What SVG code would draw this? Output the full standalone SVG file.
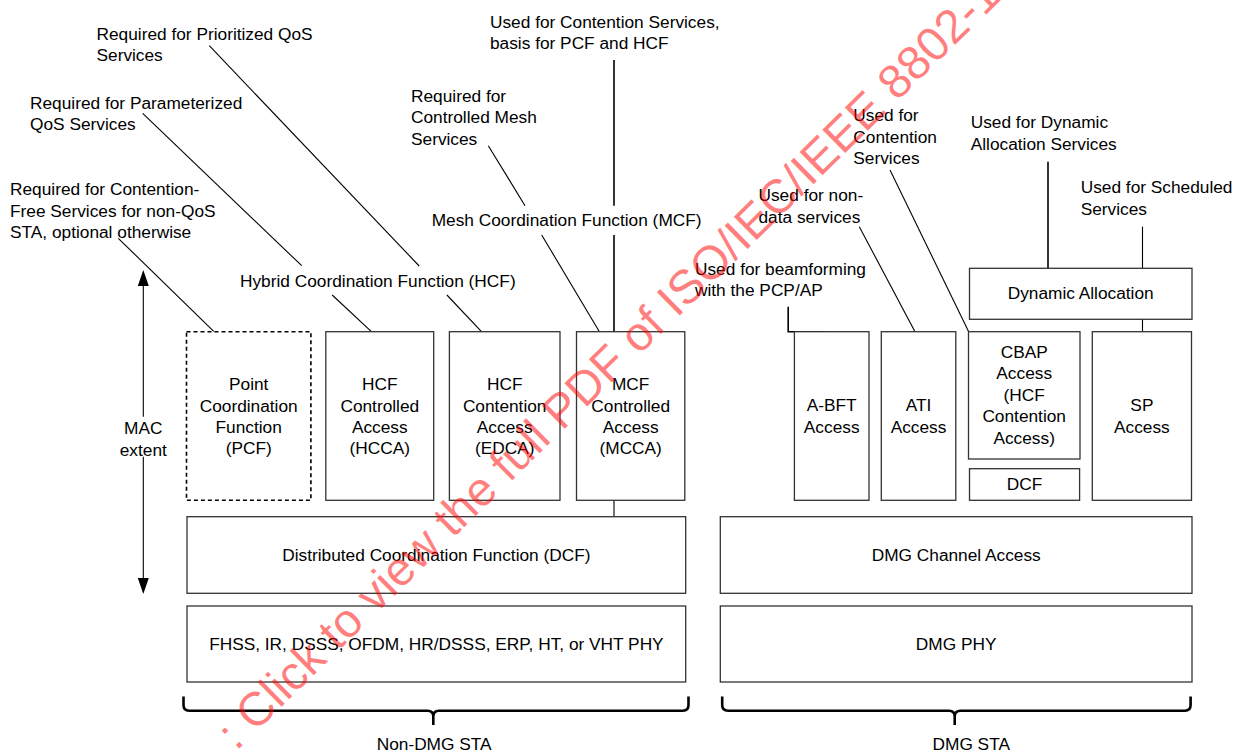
<svg xmlns="http://www.w3.org/2000/svg" width="1236" height="753" viewBox="0 0 1236 753">
<defs>
<style>
text{font-family:"Liberation Sans",Arial,sans-serif;font-size:17.3px;fill:#000}
.c{text-anchor:middle}
.box{fill:#fff;stroke:#333;stroke-width:1.3}
.dash{fill:#fff;stroke:#000;stroke-width:1.6;stroke-dasharray:4 3}
.ln{fill:none;stroke:#000;stroke-width:1.1}
.lt{fill:none;stroke:#000;stroke-width:1.6}
.brace{fill:none;stroke:#000;stroke-width:2.6}
.wm{font-size:47.5px;fill:#ff0000;fill-opacity:0.5}
</style>
</defs>
<rect width="1236" height="753" fill="#fff"/>

<g id="connectors">
<line class="ln" x1="118.3" y1="238.3" x2="214" y2="331.7"/>
<line class="ln" x1="142.7" y1="113.3" x2="301.7" y2="265.7"/>
<line class="ln" x1="332.2" y1="295" x2="371.4" y2="331.7"/>
<line class="ln" x1="209.3" y1="45.7" x2="419.2" y2="266"/>
<line class="ln" x1="446.9" y1="295" x2="481.5" y2="331.7"/>
<line class="ln" x1="488.3" y1="145.7" x2="525" y2="205.7"/>
<line class="ln" x1="541.7" y1="235" x2="599.4" y2="331.7"/>
<line class="lt" x1="614" y1="60" x2="614" y2="205.7"/>
<line class="lt" x1="614" y1="235" x2="614" y2="331.7"/>
<line class="ln" x1="614" y1="500.3" x2="614" y2="516.7"/>
<polyline class="lt" points="788.2,306.7 788.2,331.7 827,331.7"/>
<line class="ln" x1="859.3" y1="226.7" x2="915" y2="331.7"/>
<line class="ln" x1="890" y1="170" x2="968.7" y2="331.7"/>
<line class="lt" x1="1048" y1="161.7" x2="1048" y2="268.3"/>
<line class="ln" x1="1142.5" y1="226.7" x2="1142.5" y2="268.3"/>
<line class="ln" x1="1142.5" y1="319.3" x2="1142.5" y2="331.7"/>
<line class="ln" x1="143.3" y1="284" x2="143.3" y2="416.7"/>
<line class="ln" x1="143.3" y1="456.7" x2="143.3" y2="580"/>
<path d="M143.3,270 L148.8,286 L137.8,286 Z" fill="#000"/>
<path d="M143.3,594 L148.8,578 L137.8,578 Z" fill="#000"/>
<path class="brace" d="M183.5,696.5 V705 Q183.5,710.7 189,710.7 H427.5 Q433.3,710.7 433.3,716.5 V725 M433.3,716.5 Q433.3,710.7 439,710.7 H683 Q688.5,710.7 688.5,705 V696.5"/>
<path class="brace" d="M722.2,696.5 V705 Q722.2,710.7 728,710.7 H949 Q954.7,710.7 954.7,716.5 V725 M954.7,716.5 Q954.7,710.7 960.5,710.7 H1185 Q1190.6,710.7 1190.6,705 V696.5"/>
</g>

<g id="lbl-prioritized"><text x="96.5" y="39.5">Required for Prioritized QoS</text><text x="96.5" y="61">Services</text></g>
<g id="lbl-parameterized"><text x="30" y="108.7">Required for Parameterized</text><text x="30" y="130.2">QoS Services</text></g>
<g id="lbl-contention-free"><text x="10" y="195">Required for Contention-</text><text x="10" y="216.5">Free Services for non-QoS</text><text x="10" y="238">STA, optional otherwise</text></g>
<g id="lbl-hcf"><text x="240" y="286.5">Hybrid Coordination Function (HCF)</text></g>
<g id="lbl-mcf"><text x="431.7" y="226">Mesh Coordination Function (MCF)</text></g>
<g id="lbl-mesh"><text x="411" y="101.7">Required for</text><text x="411" y="123.2">Controlled Mesh</text><text x="411" y="144.7">Services</text></g>
<g id="lbl-contention"><text x="490" y="27.7">Used for Contention Services,</text><text x="490" y="49.3">basis for PCF and HCF</text></g>
<g id="lbl-beam"><text x="695" y="274.5">Used for beamforming</text><text x="695" y="296">with the PCP/AP</text></g>
<g id="lbl-nondata"><text x="758.5" y="201">Used for non-</text><text x="758.5" y="222.5">data services</text></g>
<g id="lbl-contention-dmg"><text x="853.3" y="121">Used for</text><text x="853.3" y="142.7">Contention</text><text x="853.3" y="164.3">Services</text></g>
<g id="lbl-dynamic"><text x="970.7" y="128.3">Used for Dynamic</text><text x="970.7" y="150">Allocation Services</text></g>
<g id="lbl-scheduled"><text x="1080.7" y="193.3">Used for Scheduled</text><text x="1080.7" y="214.5">Services</text></g>
<g id="lbl-mac"><text class="c" x="143.3" y="434.3">MAC</text><text class="c" x="143.3" y="456">extent</text></g>

<g id="pcf"><rect class="dash" x="186.5" y="331.7" width="124.4" height="168.6"/>
<text class="c" x="248.7" y="390">Point</text><text class="c" x="248.7" y="411.7">Coordination</text><text class="c" x="248.7" y="433">Function</text><text class="c" x="248.7" y="454.3">(PCF)</text></g>
<g id="hcca"><rect class="box" x="325.8" y="331.7" width="107.9" height="168.6"/>
<text class="c" x="379.8" y="390">HCF</text><text class="c" x="379.8" y="411.7">Controlled</text><text class="c" x="379.8" y="433">Access</text><text class="c" x="379.8" y="454.3">(HCCA)</text></g>
<g id="edca"><rect class="box" x="449.4" y="331.7" width="110.6" height="168.6"/>
<text class="c" x="504.7" y="390">HCF</text><text class="c" x="504.7" y="411.7">Contention</text><text class="c" x="504.7" y="433">Access</text><text class="c" x="504.7" y="454.3">(EDCA)</text></g>
<g id="mcca"><rect class="box" x="576.5" y="331.7" width="108.3" height="168.6"/>
<text class="c" x="630.7" y="390">MCF</text><text class="c" x="630.7" y="411.7">Controlled</text><text class="c" x="630.7" y="433">Access</text><text class="c" x="630.7" y="454.3">(MCCA)</text></g>
<g id="dcf"><rect class="box" x="187" y="516.7" width="498.7" height="76.6"/><text class="c" x="436.4" y="561">Distributed Coordination Function (DCF)</text></g>
<g id="phy"><rect class="box" x="187" y="606" width="498.7" height="76"/><text class="c" x="436.4" y="650">FHSS, IR, DSSS, OFDM, HR/DSSS, ERP, HT, or VHT PHY</text></g>
<g id="dmg-ca"><rect class="box" x="720.3" y="516.7" width="471.7" height="76.6"/><text class="c" x="956.2" y="561">DMG Channel Access</text></g>
<g id="dmg-phy"><rect class="box" x="720.3" y="606" width="471.7" height="76"/><text class="c" x="956.2" y="650">DMG PHY</text></g>
<g id="abft"><rect class="box" x="794.4" y="331.7" width="74.6" height="168.6"/><text class="c" x="831.7" y="411">A-BFT</text><text class="c" x="831.7" y="432.7">Access</text></g>
<g id="ati"><rect class="box" x="881.3" y="331.7" width="74.5" height="168.6"/><text class="c" x="918.5" y="411">ATI</text><text class="c" x="918.5" y="432.7">Access</text></g>
<g id="cbap"><rect class="box" x="968.5" y="331.7" width="111.5" height="127.3"/>
<text class="c" x="1024.2" y="357.7">CBAP</text><text class="c" x="1024.2" y="379">Access</text><text class="c" x="1024.2" y="400.7">(HCF</text><text class="c" x="1024.2" y="422.3">Contention</text><text class="c" x="1024.2" y="444">Access)</text></g>
<g id="dcf-dmg"><rect class="box" x="969.5" y="468.7" width="110.1" height="31.6"/><text class="c" x="1024.5" y="490.3">DCF</text></g>
<g id="sp"><rect class="box" x="1092.3" y="331.7" width="99.2" height="168.6"/><text class="c" x="1141.9" y="411">SP</text><text class="c" x="1141.9" y="432.7">Access</text></g>
<g id="dynalloc"><rect class="box" x="969.5" y="268.3" width="222.5" height="51"/><text class="c" x="1080.7" y="299.3">Dynamic Allocation</text></g>

<g id="lbl-nondmg"><text x="376.7" y="750">Non-DMG STA</text></g>
<g id="lbl-dmg"><text x="932.5" y="750">DMG STA</text></g>

<g id="watermark"><text class="wm" transform="translate(255,733) rotate(-44.5)" x="-26.4" y="0">: Click to view the full PDF of ISO/IEC/IEEE 8802-1</text></g>
</svg>
